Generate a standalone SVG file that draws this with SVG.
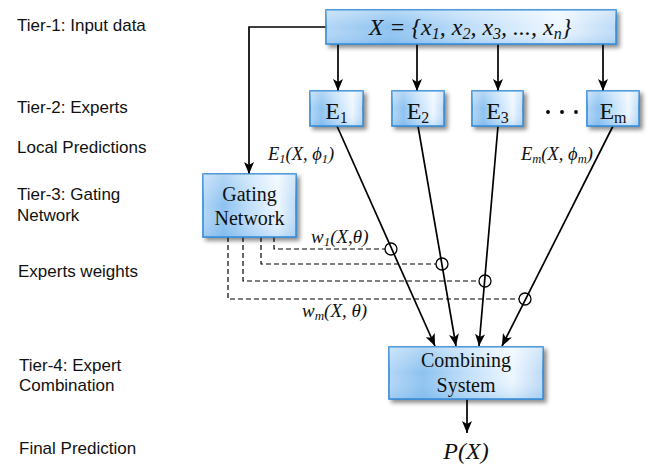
<svg xmlns="http://www.w3.org/2000/svg" width="649" height="466" viewBox="0 0 649 466">
  <style>
    .tier { font-family: "Liberation Sans", Arial, sans-serif; font-size: 17px; fill: #111; }
    .serif { font-family: "Liberation Serif", "Times New Roman", serif; fill: #111; }
    .it { font-style: italic; }
    .box { fill: url(#glass); stroke: #2b86d6; stroke-width: 1.6; filter: url(#shadow); }
    .gloss { fill: url(#gloss); pointer-events: none; }
    .wire { fill: none; stroke: #000; stroke-width: 1.7; }
    .dash { fill: none; stroke: #000; stroke-width: 1.2; stroke-dasharray: 5 3; }
    .ring { fill: none; stroke: #000; stroke-width: 1.3; }
  </style>
  <defs>
    <linearGradient id="glass" x1="0" y1="0" x2="1" y2="0">
      <stop offset="0" stop-color="#b3d6f6"/>
      <stop offset="0.22" stop-color="#8cc2f0"/>
      <stop offset="0.5" stop-color="#bfdefa"/>
      <stop offset="0.8" stop-color="#eef7ff"/>
      <stop offset="1" stop-color="#bcdaf6"/>
    </linearGradient>
    <linearGradient id="gloss" x1="0" y1="0" x2="0" y2="1">
      <stop offset="0" stop-color="#ffffff" stop-opacity="0.35"/>
      <stop offset="0.5" stop-color="#ffffff" stop-opacity="0"/>
      <stop offset="1" stop-color="#5fa5e6" stop-opacity="0.25"/>
    </linearGradient>
    <filter id="shadow" x="-20%" y="-20%" width="150%" height="160%">
      <feDropShadow dx="3" dy="3" stdDeviation="2" flood-color="#000" flood-opacity="0.45"/>
    </filter>
    <marker id="arrow" viewBox="0 0 12 10" refX="12" refY="5" markerWidth="12" markerHeight="10" markerUnits="userSpaceOnUse" orient="auto">
      <path d="M0,0 L12,5 L0,10 L3,5 z" fill="#000"/>
    </marker>
  </defs>

  <!-- tier captions -->
  <g id="captions">
    <text class="tier" x="17" y="31">Tier-1: Input data</text>
    <text class="tier" x="17" y="113">Tier-2: Experts</text>
    <text class="tier" x="17" y="153">Local Predictions</text>
    <text class="tier" x="17" y="200">Tier-3: Gating</text>
    <text class="tier" x="17" y="221">Network</text>
    <text class="tier" x="18" y="277">Experts weights</text>
    <text class="tier" x="19" y="371">Tier-4: Expert</text>
    <text class="tier" x="19" y="391">Combination</text>
    <text class="tier" x="19" y="454">Final Prediction</text>
  </g>

  <!-- connectors -->
  <g id="connectors">
    <polyline class="wire" points="326,27 249,27 249,174" marker-end="url(#arrow)"/>
    <line class="wire" x1="338" y1="44" x2="338" y2="91" marker-end="url(#arrow)"/>
    <line class="wire" x1="417" y1="44" x2="417" y2="91" marker-end="url(#arrow)"/>
    <line class="wire" x1="498" y1="44" x2="498" y2="91" marker-end="url(#arrow)"/>
    <line class="wire" x1="603" y1="44" x2="603" y2="91" marker-end="url(#arrow)"/>

    <line class="wire" x1="337" y1="126" x2="435" y2="346" marker-end="url(#arrow)"/>
    <line class="wire" x1="418" y1="126" x2="456" y2="346" marker-end="url(#arrow)"/>
    <line class="wire" x1="498" y1="126" x2="479" y2="346" marker-end="url(#arrow)"/>
    <line class="wire" x1="613" y1="126" x2="502" y2="346" marker-end="url(#arrow)"/>

    <line class="wire" x1="467" y1="399" x2="467" y2="433" marker-end="url(#arrow)"/>

    <polyline class="dash" points="274,237 274,249 385,249"/>
    <polyline class="dash" points="261,237 261,264 436,264"/>
    <polyline class="dash" points="243,237 243,281 479,281"/>
    <polyline class="dash" points="228,237 228,299 519,299"/>
    <circle class="ring" cx="391" cy="249" r="6"/>
    <circle class="ring" cx="442" cy="264" r="6"/>
    <circle class="ring" cx="485" cy="281" r="6"/>
    <circle class="ring" cx="525" cy="299" r="6"/>
  </g>

  <!-- input data -->
  <g id="input">
    <rect class="box" x="326" y="10" width="290" height="34"/>
    <rect class="gloss" x="326" y="10" width="290" height="34"/>
    <text class="serif it" x="470" y="35" font-size="24" text-anchor="middle">X = {x<tspan font-size="16" dy="4">1</tspan><tspan dy="-4">, x</tspan><tspan font-size="16" dy="4">2</tspan><tspan dy="-4">, x</tspan><tspan font-size="16" dy="4">3</tspan><tspan dy="-4">, ..., x</tspan><tspan font-size="16" dy="4">n</tspan><tspan dy="-4">}</tspan></text>
  </g>

  <!-- experts -->
  <g id="expert-1">
    <rect class="box" x="310" y="91" width="53" height="35"/>
    <rect class="gloss" x="310" y="91" width="53" height="35"/>
    <text class="serif" x="336.5" y="119" font-size="24" text-anchor="middle">E<tspan font-size="16" dy="4">1</tspan></text>
  </g>
  <g id="expert-2">
    <rect class="box" x="392" y="91" width="52" height="35"/>
    <rect class="gloss" x="392" y="91" width="52" height="35"/>
    <text class="serif" x="418" y="119" font-size="24" text-anchor="middle">E<tspan font-size="16" dy="4">2</tspan></text>
  </g>
  <g id="expert-3">
    <rect class="box" x="472" y="91" width="51" height="35"/>
    <rect class="gloss" x="472" y="91" width="51" height="35"/>
    <text class="serif" x="497.5" y="119" font-size="24" text-anchor="middle">E<tspan font-size="16" dy="4">3</tspan></text>
  </g>
  <g id="ellipsis">
    <circle cx="548" cy="112" r="1.9" fill="#000"/>
    <circle cx="562" cy="112" r="1.9" fill="#000"/>
    <circle cx="576" cy="112" r="1.9" fill="#000"/>
  </g>
  <g id="expert-m">
    <rect class="box" x="587" y="91" width="52" height="35"/>
    <rect class="gloss" x="587" y="91" width="52" height="35"/>
    <text class="serif" x="613" y="119" font-size="24" text-anchor="middle">E<tspan font-size="16" dy="4">m</tspan></text>
  </g>

  <!-- local prediction labels -->
  <g id="prediction-labels">
    <text class="serif it" x="268" y="160" font-size="18.5">E<tspan font-size="12.5" dy="3">1</tspan><tspan dy="-3">(X, ϕ</tspan><tspan font-size="12.5" dy="3">1</tspan><tspan dy="-3">)</tspan></text>
    <text class="serif it" x="521" y="160" font-size="18.5">E<tspan font-size="12.5" dy="3">m</tspan><tspan dy="-3">(X, ϕ</tspan><tspan font-size="12.5" dy="3">m</tspan><tspan dy="-3">)</tspan></text>
  </g>

  <!-- gating network -->
  <g id="gating">
    <rect class="box" x="203" y="174" width="93" height="63"/>
    <rect class="gloss" x="203" y="174" width="93" height="63"/>
    <text class="serif" x="249.5" y="201" font-size="20" text-anchor="middle">Gating</text>
    <text class="serif" x="249.5" y="225" font-size="20" text-anchor="middle">Network</text>
  </g>

  <!-- weight labels -->
  <g id="weight-labels">
    <text class="serif it" x="311" y="243" font-size="19">w<tspan font-size="13" dy="3">1</tspan><tspan dy="-3">(X,θ)</tspan></text>
    <text class="serif it" x="302" y="317" font-size="19">w<tspan font-size="13" dy="3">m</tspan><tspan dy="-3">(X, θ)</tspan></text>
  </g>

  <!-- combining system -->
  <g id="combiner">
    <rect class="box" x="389" y="347" width="154" height="52"/>
    <rect class="gloss" x="389" y="347" width="154" height="52"/>
    <text class="serif" x="466" y="367" font-size="20" text-anchor="middle">Combining</text>
    <text class="serif" x="466" y="392" font-size="20" text-anchor="middle">System</text>
  </g>

  <!-- output -->
  <g id="output">
    <text class="serif it" x="466" y="459" font-size="24" text-anchor="middle">P(X)</text>
  </g>
</svg>
